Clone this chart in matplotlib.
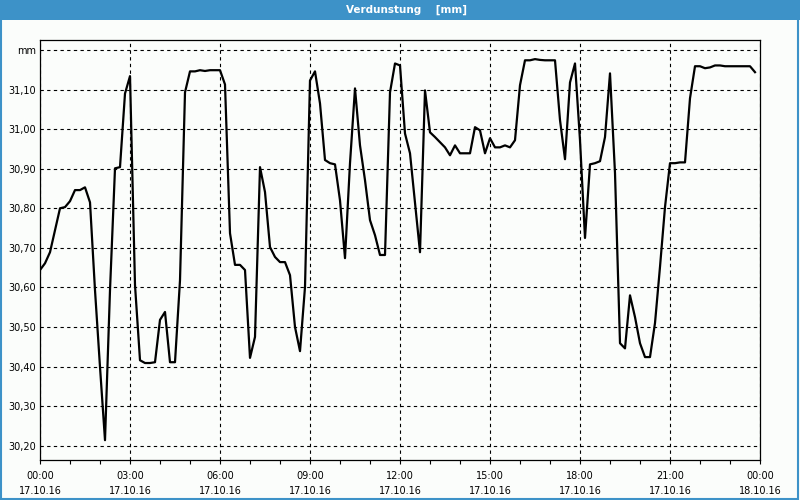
import numpy as np
import pandas as pd
import matplotlib
matplotlib.use('Agg')
import matplotlib.pyplot as plt
import matplotlib.dates as mdates
from matplotlib.ticker import FixedLocator, FuncFormatter

# Verdunstung, 10-Minuten-Werte vom 17.10.16
start = '2016-10-17 00:00'
werte = [
    30.644, 30.661, 30.689, 30.745, 30.800, 30.803, 30.818, 30.846, 30.846, 30.853,
    30.815, 30.593, 30.399, 30.214, 30.593, 30.901, 30.904, 31.090, 31.134, 30.606,
    30.416, 30.409, 30.409, 30.411, 30.518, 30.538, 30.411, 30.411, 30.618, 31.093,
    31.146, 31.146, 31.149, 31.147, 31.149, 31.149, 31.149, 31.113, 30.737, 30.657,
    30.657, 30.644, 30.422, 30.475, 30.904, 30.841, 30.702, 30.677, 30.664, 30.664,
    30.631, 30.500, 30.439, 30.601, 31.123, 31.146, 31.065, 30.922, 30.914, 30.911,
    30.820, 30.674, 30.914, 31.103, 30.959, 30.871, 30.770, 30.732, 30.682, 30.682,
    31.093, 31.166, 31.161, 30.989, 30.939, 30.813, 30.689, 31.098, 30.992, 30.980,
    30.967, 30.954, 30.934, 30.959, 30.939, 30.939, 30.939, 31.005, 30.997, 30.939,
    30.977, 30.954, 30.954, 30.959, 30.954, 30.972, 31.111, 31.174, 31.174, 31.177,
    31.175, 31.174, 31.174, 31.174, 31.023, 30.924, 31.118, 31.166, 30.972, 30.725,
    30.911, 30.914, 30.919, 30.980, 31.141, 30.889, 30.459, 30.446, 30.580, 30.525,
    30.459, 30.424, 30.424, 30.510, 30.652, 30.803, 30.914, 30.914, 30.916, 30.916,
    31.078, 31.159, 31.159, 31.154, 31.156, 31.161, 31.161, 31.159, 31.159, 31.159,
    31.159, 31.159, 31.159, 31.144,
]
y_ticks = [30.2, 30.3, 30.4, 30.5, 30.6, 30.7, 30.8, 30.9, 31.0, 31.1, 31.2]

zeit = pd.date_range(start, periods=len(werte), freq='10min')

bg = '#fbfdfb'
blau = '#3d92c8'

fig = plt.figure(figsize=(8, 5), dpi=100, facecolor=bg)
plt.rcParams['font.family'] = ['DejaVu Sans']

# Titelleiste
fig.patches.append(plt.Rectangle((0, 0.96), 1, 0.04, transform=fig.transFigure,
                                 facecolor=blau, edgecolor='none'))
fig.patches.append(plt.Rectangle((0.001, 0.003), 0.996, 0.997, transform=fig.transFigure,
                                 facecolor='none', edgecolor=blau, linewidth=1.5))
fig.text(0.508, 0.98, 'Verdunstung    [mm]', color='white', fontsize=7.5,
         fontweight='bold', ha='center', va='center')

ax = fig.add_axes([0.05, 0.08, 0.9, 0.84], facecolor=bg)
ax.plot(zeit, werte, color='black', linewidth=1.6)

ax.set_xlim(pd.Timestamp('2016-10-17 00:00'), pd.Timestamp('2016-10-18 00:00'))
ax.set_ylim(30.1639, 31.2253)

ax.xaxis.set_major_locator(mdates.HourLocator(byhour=range(0, 24, 3)))
ax.xaxis.set_minor_locator(mdates.HourLocator())
ax.xaxis.set_major_formatter(mdates.DateFormatter('%H:%M\n%d.%m.%y'))

ax.yaxis.set_major_locator(FixedLocator(y_ticks))
ax.yaxis.set_major_formatter(FuncFormatter(
    lambda v, p: 'mm' if v > 31.15 else f'{v:.2f}'.replace('.', ',')))

ax.tick_params(axis='x', which='both', direction='out', length=3, width=0.8,
               labelsize=7, pad=5)
ax.tick_params(axis='y', length=0, labelsize=7, pad=3)
for lbl in ax.get_xticklabels():
    lbl.set_linespacing(1.6)

ax.grid(True, which='major', color='black', linestyle=(0, (3, 3)), linewidth=0.8)
for s in ax.spines.values():
    s.set_color('black')
    s.set_linewidth(0.9)

fig.savefig('out.png', dpi=100, facecolor=bg)
